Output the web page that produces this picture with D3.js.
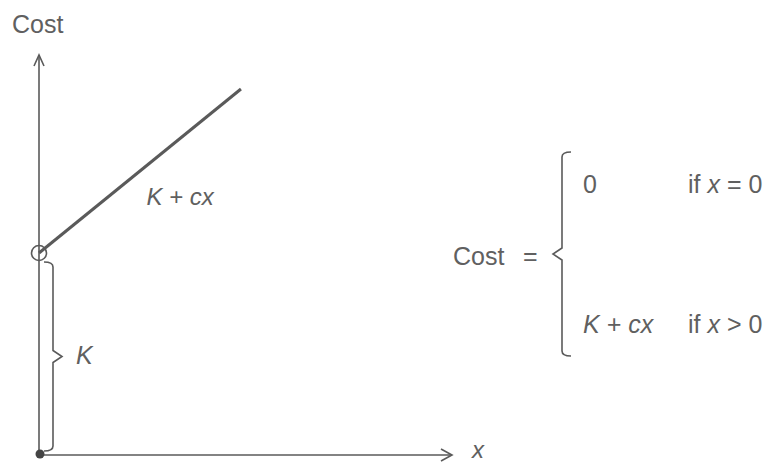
<!DOCTYPE html>
<html lang="en">
<head>
    <meta charset="UTF-8">
    <title>Fixed cost plus linear cost</title>
    <script src="https://d3js.org/d3.v7.min.js"></script>
    <style>
        body { margin: 0; background: #fff; }
        text { font-family: "Liberation Sans", Arial, sans-serif; fill: #606060; }
    </style>
</head>
<body>
    <div id="container"></div>
    <script>
        // Data
        const costX = [0, 4.89];      // quantity x at start / end of the cost line
        const costY = [5, 9.06];      // cost K + cx at those points
        const setupK = 5;             // fixed cost K
        const axisEnd = [10, 9.9];    // length of x and y axes, in data units
        const formulaRows = ["0", "K + cx"];
        const conditionRel = ["=", ">"];

        const width = 777;
        const height = 464;
        const ink = "#5a5a5a";

        const svg = d3.select("#container")
                      .append("svg")
                      .attr("width", width)
                      .attr("height", height);

        // Scales
        const x = d3.scaleLinear().domain([0, 10]).range([39, 452]);
        const y = d3.scaleLinear().domain([0, 10]).range([455, 51]);

        // Axes (no ticks, just arrows)
        const axes = svg.append("g")
                        .attr("stroke", ink)
                        .attr("fill", "none")
                        .attr("stroke-width", 1.6);

        axes.append("line")
            .attr("x1", x(0)).attr("y1", y(0))
            .attr("x2", x(0)).attr("y2", y(axisEnd[1]));
        axes.append("path")
            .attr("d", `M${x(0) - 5},${y(axisEnd[1]) + 11} L${x(0)},${y(axisEnd[1])} L${x(0) + 5},${y(axisEnd[1]) + 11}`);

        axes.append("line")
            .attr("x1", x(0)).attr("y1", y(0))
            .attr("x2", x(axisEnd[0])).attr("y2", y(0));
        axes.append("path")
            .attr("d", `M${x(axisEnd[0]) - 11},${y(0) - 6} L${x(axisEnd[0])},${y(0)} L${x(axisEnd[0]) - 11},${y(0) + 6}`);

        // Axis labels
        svg.append("text")
           .attr("x", 12).attr("y", 33)
           .attr("font-size", 25)
           .text("Cost");
        svg.append("text")
           .attr("x", x(axisEnd[0]) + 20).attr("y", y(0) + 3)
           .attr("font-size", 24)
           .attr("font-style", "italic")
           .text("x");

        // Cost line K + cx
        svg.append("path")
           .datum(d3.zip(costX, costY))
           .attr("fill", "none")
           .attr("stroke", ink)
           .attr("stroke-width", 3)
           .attr("d", d3.line().x(d => x(d[0])).y(d => y(d[1])));

        // Open circle at x = 0 (cost jumps to K) and filled point at origin
        svg.append("circle")
           .attr("cx", x(0)).attr("cy", y(setupK)).attr("r", 7.5)
           .attr("fill", "none").attr("stroke", ink).attr("stroke-width", 1.6);
        svg.append("circle")
           .attr("cx", x(0) + 1).attr("cy", y(0) - 1).attr("r", 4.5)
           .attr("fill", "#444");

        svg.append("text")
           .attr("x", x(2.6)).attr("y", y(6.2))
           .attr("font-size", 24)
           .attr("font-style", "italic")
           .text("K + cx");

        // Curly brace: vertical line at xl from y1 to y2, tip points toward dir
        function brace(xl, y1, y2, dir) {
            const ym = (y1 + y2) / 2;
            const h = 9, t = 9, r = 5;
            return `M${xl - dir * h},${y1} Q${xl},${y1} ${xl},${y1 + r}` +
                   ` L${xl},${ym - 6} L${xl + dir * t},${ym} L${xl},${ym + 6}` +
                   ` L${xl},${y2 - r} Q${xl},${y2} ${xl - dir * h},${y2}`;
        }

        svg.append("path")
           .attr("d", brace(x(0) + 14, y(setupK) + 9, y(0) - 4, 1))
           .attr("fill", "none").attr("stroke", ink).attr("stroke-width", 1.6);
        svg.append("text")
           .attr("x", 76).attr("y", y(setupK / 2) + 10)
           .attr("font-size", 25)
           .attr("font-style", "italic")
           .text("K");

        // Piecewise formula
        svg.append("text").attr("x", 453).attr("y", 265).attr("font-size", 25).text("Cost");
        svg.append("text").attr("x", 523).attr("y", 265).attr("font-size", 25).text("=");
        svg.append("path")
           .attr("d", brace(562, 152, 356, -1))
           .attr("fill", "none").attr("stroke", ink).attr("stroke-width", 1.6);

        const rowY = [193, 333];
        formulaRows.forEach((f, i) => {
            const t = svg.append("text")
                         .attr("x", 583).attr("y", rowY[i])
                         .attr("font-size", 25);
            if (f === "0") {
                t.text(f);
            } else {
                t.attr("font-style", "italic").text(f);
            }
            const c = svg.append("text")
                         .attr("x", 688).attr("y", rowY[i])
                         .attr("font-size", 25);
            c.append("tspan").text("if ");
            c.append("tspan").attr("font-style", "italic").text("x");
            c.append("tspan").text(` ${conditionRel[i]} 0`);
        });
    </script>
</body>
</html>
